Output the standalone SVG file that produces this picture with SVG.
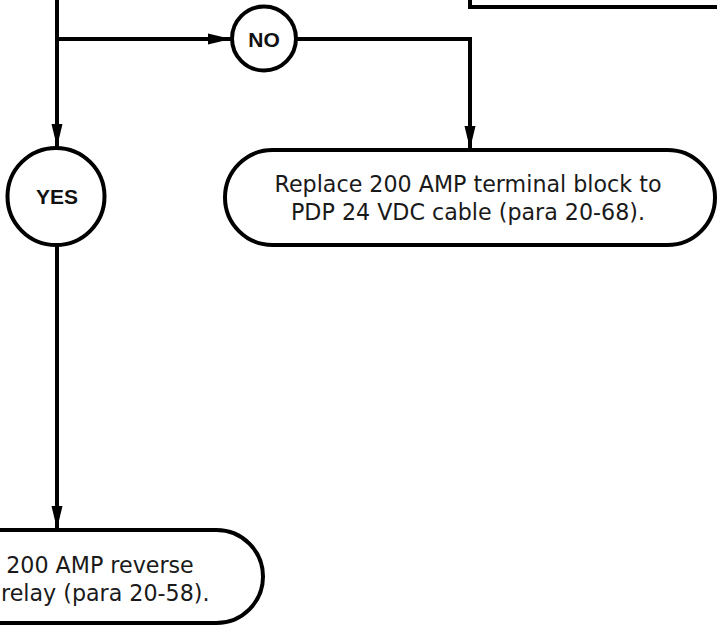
<svg xmlns="http://www.w3.org/2000/svg" width="717" height="626" viewBox="0 0 717 626">
  <style>
    .ln { fill: none; stroke: #000; stroke-width: 4; }
    .shape { fill: #fff; stroke: #000; stroke-width: 4; }
    .body { font-family: "DejaVu Sans", "Liberation Sans", sans-serif; font-size: 22.2px; fill: #1a1a1a; text-anchor: middle; }
    .dec { font-family: "Liberation Sans", Arial, sans-serif; font-size: 21px; font-weight: bold; fill: #111; text-anchor: middle; }
  </style>
  <defs>
    <marker id="arr" markerUnits="userSpaceOnUse" markerWidth="23" markerHeight="12" refX="23" refY="6" orient="auto">
      <path d="M0,0.5 L23,6 L0,11.5 z" fill="#000"/>
    </marker>
  </defs>

  <g id="connectors">
    <path class="ln" d="M57,-5 V39 M57,39 V147" marker-end="url(#arr)"/>
    <path class="ln" d="M57,39 H231" marker-end="url(#arr)"/>
    <path class="ln" d="M296,39 H470 V149" marker-end="url(#arr)"/>
    <path class="ln" d="M57,245 V529" marker-end="url(#arr)"/>
  </g>

  <g id="node-top">
    <path class="ln" d="M470,-5 V7 H722"/>
  </g>

  <g id="node-no">
    <circle class="shape" cx="264" cy="38.5" r="32"/>
    <text class="dec" x="264" y="46.5">NO</text>
  </g>

  <g id="node-yes">
    <circle class="shape" cx="56" cy="196.5" r="48.5"/>
    <text class="dec" x="57" y="204">YES</text>
  </g>

  <g id="node-replace-terminal">
    <rect class="shape" x="225" y="150" width="490" height="95" rx="47.5" ry="47.5"/>
    <text class="body" x="468" y="192">Replace 200 AMP terminal block to</text>
    <text class="body" x="468" y="220">PDP 24 VDC cable (para 20-68).</text>
  </g>

  <g id="node-replace-relay">
    <rect class="shape" x="-149" y="530" width="412" height="93" rx="46.5" ry="46.5"/>
    <text class="body" x="100" y="573">200 AMP reverse</text>
    <text class="body" x="1" y="601" style="text-anchor:start">relay (para 20-58).</text>
  </g>
</svg>
